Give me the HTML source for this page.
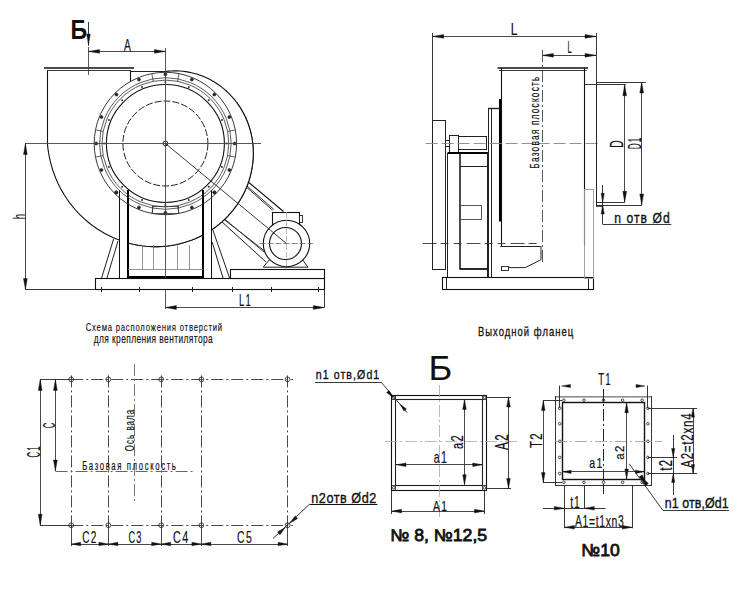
<!DOCTYPE html>
<html><head><meta charset="utf-8"><style>
html,body{margin:0;padding:0;background:#fff;}
svg{display:block;}
</style></head><body>
<svg width="750" height="589" viewBox="0 0 750 589">
<rect x="0" y="0" width="750" height="589" fill="#fff"/>
<path d="M165.40,71.50 L168.24,71.17 L171.11,70.96 L174.00,70.86 L176.90,70.87 L179.82,71.00 L182.74,71.25 L185.67,71.62 L188.60,72.11 L191.51,72.71 L194.42,73.44 L197.31,74.28 L200.18,75.25 L203.02,76.33 L205.82,77.53 L208.60,78.85 L211.33,80.29 L214.01,81.84 L216.64,83.50 L219.22,85.28 L221.73,87.17 L224.18,89.16 L226.56,91.26 L228.87,93.47 L231.09,95.77 L233.23,98.17 L235.29,100.67 L237.25,103.26 L239.12,105.94 L240.88,108.70 L242.54,111.55 L244.10,114.47 L245.54,117.46 L246.87,120.52 L248.08,123.65 L249.18,126.84 L250.14,130.08 L250.99,133.37 L251.70,136.71 L252.28,140.09 L252.73,143.50 L253.05,146.94 L253.23,150.41 L253.27,153.90 L253.17,157.40 L252.94,160.91 L252.56,164.42 L252.04,167.93 L251.38,171.44 L250.57,174.92 L249.63,178.39 L248.54,181.83 L247.31,185.24 L245.95,188.61 L244.44,191.94 L242.80,195.21 L241.02,198.44 L239.10,201.60 L237.06,204.70 L234.88,207.73 L232.58,210.68 L230.15,213.54 L227.60,216.32 L224.93,219.01 L222.14,221.60 L219.24,224.08 L216.24,226.46 L213.13,228.73 L209.92,230.88 L206.62,232.91 L203.22,234.81 L199.74,236.58 L196.18,238.23 L192.54,239.73 L188.83,241.09 L185.06,242.31 L181.22,243.39 L177.33,244.31 L173.39,245.09 L169.42,245.70 L165.40,246.17 L161.35,246.47 L157.28,246.61 L153.20,246.60 L149.10,246.42 L145.00,246.07 L140.90,245.57 L136.80,244.89 L132.73,244.06 L128.67,243.06 L124.64,241.89 L120.65,240.57 L116.70,239.08 L112.80,237.42 L108.95,235.61 L105.17,233.65 L101.45,231.52 L97.81,229.24 L94.24,226.82 L90.77,224.24 L87.38,221.52 L84.10,218.65 L80.92,215.65 L77.85,212.52 L74.90,209.25 L72.07,205.86 L69.36,202.35 L66.79,198.72 L64.36,194.98 L62.07,191.14 L59.92,187.19 L57.93,183.15 L56.09,179.02 L54.41,174.80 L52.90,170.51 L51.55,166.15 L50.37,161.72 L49.36,157.23 L48.53,152.70 L47.87,148.12 L47.40,143.50" stroke="#111" stroke-width="1.1" fill="none" />
<line x1="47.50" y1="70.00" x2="47.50" y2="143.50" stroke="#111" stroke-width="1.1" />
<line x1="130.50" y1="70.00" x2="130.50" y2="81.00" stroke="#111" stroke-width="1.1" />
<line x1="130.60" y1="71.50" x2="166.00" y2="71.50" stroke="#222" stroke-width="1" />
<line x1="44.00" y1="68.00" x2="134.00" y2="68.00" stroke="#111" stroke-width="1.6" />
<line x1="47.00" y1="70.50" x2="131.00" y2="70.50" stroke="#222" stroke-width="0.9" />
<path d="M240.00,175.00 L283.50,211.50" stroke="#111" stroke-width="1.1" fill="none" />
<path d="M240.00,181.50 L272.60,210.20" stroke="#222" stroke-width="0.9" fill="none" />
<path d="M240.00,180.00 L273.80,209.40" stroke="#222" stroke-width="0.9" fill="none" />
<path d="M215.00,211.00 L264.20,252.20" stroke="#222" stroke-width="0.9" fill="none" />
<path d="M215.00,212.50 L265.20,251.40" stroke="#222" stroke-width="0.9" fill="none" />
<path d="M215.00,215.50 L266.00,262.00" stroke="#222" stroke-width="1" fill="none" />
<path d="M236.61,102.39 L238.57,105.14 L240.43,107.98 L242.18,110.91 L243.82,113.92 L245.34,117.01 L246.73,120.18 L248.00,123.42 L249.14,126.72 L250.14,130.08 L251.01,133.49 L251.75,136.96 L252.34,140.46 L252.79,144.01 L253.09,147.58 L253.25,151.19 L253.26,154.81 L253.12,158.44 L252.82,162.08 L252.38,165.73 L251.78,169.36 L251.04,172.99 L250.13,176.59 L249.08,180.18 L247.88,183.73 L246.52,187.24 L245.01,190.71 L243.36,194.13 L241.56,197.49 L239.61,200.79 L237.52,204.02 L235.29,207.17 L232.92,210.24 L230.42,213.23 L227.79,216.12 L225.03,218.91 L222.14,221.60 L219.13,224.17 L216.01,226.63 L212.78,228.97 L209.44,231.19 L206.00,233.27 L202.46,235.22 L198.82,237.02 L195.11,238.69 L191.31,240.20 L187.44,241.56 L183.50,242.77 L179.50,243.82 L175.44,244.70 L171.34,245.43 L167.19,245.98 L163.01,246.37 L158.79,246.58 L154.56,246.62 L150.31,246.49 L146.06,246.18 L141.81,245.69 L137.56,245.03 L133.33,244.19 L129.12,243.18 L165.40,143.50 Z" stroke="none" stroke-width="0" fill="#fff" />
<path d="M236.61,102.39 L238.57,105.14 L240.43,107.98 L242.18,110.91 L243.82,113.92 L245.34,117.01 L246.73,120.18 L248.00,123.42 L249.14,126.72 L250.14,130.08 L251.01,133.49 L251.75,136.96 L252.34,140.46 L252.79,144.01 L253.09,147.58 L253.25,151.19 L253.26,154.81 L253.12,158.44 L252.82,162.08 L252.38,165.73 L251.78,169.36 L251.04,172.99 L250.13,176.59 L249.08,180.18 L247.88,183.73 L246.52,187.24 L245.01,190.71 L243.36,194.13 L241.56,197.49 L239.61,200.79 L237.52,204.02 L235.29,207.17 L232.92,210.24 L230.42,213.23 L227.79,216.12 L225.03,218.91 L222.14,221.60 L219.13,224.17 L216.01,226.63 L212.78,228.97 L209.44,231.19 L206.00,233.27 L202.46,235.22 L198.82,237.02 L195.11,238.69 L191.31,240.20 L187.44,241.56 L183.50,242.77 L179.50,243.82 L175.44,244.70 L171.34,245.43 L167.19,245.98 L163.01,246.37 L158.79,246.58 L154.56,246.62 L150.31,246.49 L146.06,246.18 L141.81,245.69 L137.56,245.03 L133.33,244.19 L129.12,243.18" stroke="#111" stroke-width="1.1" fill="none" />
<line x1="113.60" y1="239.00" x2="101.60" y2="278.00" stroke="#222" stroke-width="1" />
<line x1="118.00" y1="241.00" x2="107.00" y2="278.00" stroke="#222" stroke-width="1" />
<line x1="212.20" y1="242.00" x2="223.00" y2="278.00" stroke="#222" stroke-width="1" />
<line x1="212.80" y1="229.80" x2="229.60" y2="278.00" stroke="#222" stroke-width="1" />
<rect x="119.50" y="190.50" width="9.00" height="88.00" stroke="none" stroke-width="0" fill="#fff" />
<rect x="203.50" y="190.50" width="8.00" height="88.00" stroke="none" stroke-width="0" fill="#fff" />
<line x1="119.50" y1="190.00" x2="119.50" y2="278.00" stroke="#111" stroke-width="1" />
<line x1="211.50" y1="190.00" x2="211.50" y2="278.00" stroke="#111" stroke-width="1" />
<line x1="128.00" y1="190.00" x2="128.00" y2="278.00" stroke="#000" stroke-width="2" />
<line x1="203.00" y1="190.00" x2="203.00" y2="278.00" stroke="#000" stroke-width="2" />
<line x1="142.50" y1="245.00" x2="142.50" y2="269.60" stroke="#777" stroke-width="0.8" />
<line x1="153.50" y1="245.00" x2="153.50" y2="269.60" stroke="#777" stroke-width="0.8" />
<line x1="177.50" y1="245.00" x2="177.50" y2="269.60" stroke="#777" stroke-width="0.8" />
<line x1="189.50" y1="245.00" x2="189.50" y2="269.60" stroke="#777" stroke-width="0.8" />
<line x1="128.00" y1="269.50" x2="203.00" y2="269.50" stroke="#777" stroke-width="0.8" />
<line x1="128.00" y1="277.00" x2="203.00" y2="277.00" stroke="#000" stroke-width="2" />
<circle cx="165.40" cy="143.50" r="71.20" stroke="#222" stroke-width="0.9" fill="none" />
<circle cx="165.40" cy="143.50" r="65.80" stroke="#333" stroke-width="0.8" fill="none" />
<circle cx="165.40" cy="143.50" r="63.40" stroke="#333" stroke-width="0.8" fill="none" />
<circle cx="165.40" cy="143.50" r="59.00" stroke="#111" stroke-width="1.1" fill="none" />
<circle cx="234.60" cy="143.50" r="1.50" stroke="#222" stroke-width="0.6" fill="#222" />
<circle cx="226.60" cy="143.50" r="1.00" stroke="#222" stroke-width="0" fill="#333" />
<circle cx="229.33" cy="169.98" r="1.50" stroke="#222" stroke-width="0.6" fill="#222" />
<circle cx="221.94" cy="166.92" r="1.00" stroke="#222" stroke-width="0" fill="#333" />
<circle cx="214.33" cy="192.43" r="1.50" stroke="#222" stroke-width="0.6" fill="#222" />
<circle cx="208.67" cy="186.77" r="1.00" stroke="#222" stroke-width="0" fill="#333" />
<circle cx="191.88" cy="207.43" r="1.50" stroke="#222" stroke-width="0.6" fill="#222" />
<circle cx="188.82" cy="200.04" r="1.00" stroke="#222" stroke-width="0" fill="#333" />
<circle cx="165.40" cy="212.70" r="1.50" stroke="#222" stroke-width="0.6" fill="#222" />
<circle cx="165.40" cy="204.70" r="1.00" stroke="#222" stroke-width="0" fill="#333" />
<circle cx="138.92" cy="207.43" r="1.50" stroke="#222" stroke-width="0.6" fill="#222" />
<circle cx="141.98" cy="200.04" r="1.00" stroke="#222" stroke-width="0" fill="#333" />
<circle cx="116.47" cy="192.43" r="1.50" stroke="#222" stroke-width="0.6" fill="#222" />
<circle cx="122.13" cy="186.77" r="1.00" stroke="#222" stroke-width="0" fill="#333" />
<circle cx="101.47" cy="169.98" r="1.50" stroke="#222" stroke-width="0.6" fill="#222" />
<circle cx="108.86" cy="166.92" r="1.00" stroke="#222" stroke-width="0" fill="#333" />
<circle cx="96.20" cy="143.50" r="1.50" stroke="#222" stroke-width="0.6" fill="#222" />
<circle cx="104.20" cy="143.50" r="1.00" stroke="#222" stroke-width="0" fill="#333" />
<circle cx="101.47" cy="117.02" r="1.50" stroke="#222" stroke-width="0.6" fill="#222" />
<circle cx="108.86" cy="120.08" r="1.00" stroke="#222" stroke-width="0" fill="#333" />
<circle cx="116.47" cy="94.57" r="1.50" stroke="#222" stroke-width="0.6" fill="#222" />
<circle cx="122.13" cy="100.23" r="1.00" stroke="#222" stroke-width="0" fill="#333" />
<circle cx="138.92" cy="79.57" r="1.50" stroke="#222" stroke-width="0.6" fill="#222" />
<circle cx="141.98" cy="86.96" r="1.00" stroke="#222" stroke-width="0" fill="#333" />
<circle cx="165.40" cy="74.30" r="1.50" stroke="#222" stroke-width="0.6" fill="#222" />
<circle cx="165.40" cy="82.30" r="1.00" stroke="#222" stroke-width="0" fill="#333" />
<circle cx="191.88" cy="79.57" r="1.50" stroke="#222" stroke-width="0.6" fill="#222" />
<circle cx="188.82" cy="86.96" r="1.00" stroke="#222" stroke-width="0" fill="#333" />
<circle cx="214.33" cy="94.57" r="1.50" stroke="#222" stroke-width="0.6" fill="#222" />
<circle cx="208.67" cy="100.23" r="1.00" stroke="#222" stroke-width="0" fill="#333" />
<circle cx="229.33" cy="117.02" r="1.50" stroke="#222" stroke-width="0.6" fill="#222" />
<circle cx="221.94" cy="120.08" r="1.00" stroke="#222" stroke-width="0" fill="#333" />
<line x1="227.64" y1="131.40" x2="235.29" y2="129.91" stroke="#333" stroke-width="0.8" />
<line x1="227.64" y1="155.60" x2="235.29" y2="157.09" stroke="#333" stroke-width="0.8" />
<line x1="177.50" y1="205.74" x2="178.99" y2="213.39" stroke="#333" stroke-width="0.8" />
<line x1="153.30" y1="205.74" x2="151.81" y2="213.39" stroke="#333" stroke-width="0.8" />
<line x1="103.16" y1="155.60" x2="95.51" y2="157.09" stroke="#333" stroke-width="0.8" />
<line x1="103.16" y1="131.40" x2="95.51" y2="129.91" stroke="#333" stroke-width="0.8" />
<line x1="153.30" y1="81.26" x2="151.81" y2="73.61" stroke="#333" stroke-width="0.8" />
<line x1="177.50" y1="81.26" x2="178.99" y2="73.61" stroke="#333" stroke-width="0.8" />
<rect x="152.50" y="206.50" width="26.00" height="7.00" stroke="#333" stroke-width="0.8" fill="none" />
<circle cx="116.00" cy="192.40" r="1.50" stroke="#222" stroke-width="0.8" fill="none" />
<circle cx="214.40" cy="192.40" r="1.50" stroke="#222" stroke-width="0.8" fill="none" />
<circle cx="165.40" cy="143.50" r="42.50" stroke="#222" stroke-width="1" fill="none" stroke-dasharray="7 2"/>
<circle cx="165.40" cy="143.50" r="2.40" stroke="#222" stroke-width="1" fill="none" />
<line x1="25.00" y1="143.50" x2="261.00" y2="143.50" stroke="#444" stroke-width="0.9" />
<line x1="165.50" y1="48.00" x2="165.50" y2="309.00" stroke="#444" stroke-width="0.9" />
<rect x="95.50" y="278.50" width="229.00" height="11.00" stroke="#111" stroke-width="1.1" fill="#fff" />
<line x1="101.50" y1="287.00" x2="101.50" y2="292.00" stroke="#222" stroke-width="1" />
<line x1="139.50" y1="287.00" x2="139.50" y2="292.00" stroke="#222" stroke-width="1" />
<line x1="192.50" y1="287.00" x2="192.50" y2="292.00" stroke="#222" stroke-width="1" />
<line x1="232.50" y1="287.00" x2="232.50" y2="292.00" stroke="#222" stroke-width="1" />
<line x1="271.50" y1="287.00" x2="271.50" y2="292.00" stroke="#222" stroke-width="1" />
<line x1="318.50" y1="287.00" x2="318.50" y2="292.00" stroke="#222" stroke-width="1" />
<line x1="25.00" y1="289.50" x2="95.60" y2="289.50" stroke="#222" stroke-width="0.9" />
<rect x="230.50" y="269.50" width="94.00" height="9.00" stroke="#111" stroke-width="1.1" fill="#fff" />
<path d="M270.00,259.00 L263.20,267.20 L308.00,267.20 L302.00,259.00" stroke="#222" stroke-width="1" fill="#fff" />
<rect x="272.50" y="212.50" width="27.00" height="12.00" stroke="#111" stroke-width="1.1" fill="#fff" />
<rect x="299.50" y="215.50" width="3.00" height="7.00" stroke="#222" stroke-width="0.9" fill="none" />
<circle cx="286.50" cy="243.50" r="23.20" stroke="#111" stroke-width="1.1" fill="#fff" />
<circle cx="285.50" cy="243.50" r="16.00" stroke="#111" stroke-width="1.1" fill="none" />
<line x1="259.50" y1="243.50" x2="312.90" y2="243.50" stroke="#666" stroke-width="0.8" stroke-dasharray="6 2"/>
<line x1="286.50" y1="212.00" x2="286.50" y2="269.20" stroke="#aaa" stroke-width="0.8" stroke-dasharray="6 2"/>
<line x1="165.40" y1="143.50" x2="286.50" y2="243.50" stroke="#222" stroke-width="0.9" />
<line x1="25.50" y1="143.50" x2="25.50" y2="289.50" stroke="#333" stroke-width="0.9" />
<path d="M25.40,289.50 L23.50,278.50 L27.30,278.50 Z" stroke="#111" stroke-width="0.4" fill="#111" />
<path d="M25.40,143.50 L27.30,154.50 L23.50,154.50 Z" stroke="#111" stroke-width="0.4" fill="#111" />
<text transform="translate(24.90 218.60) rotate(-90) scale(0.5679136798088404 1)" x="-1.19" y="0" font-family="&quot;Liberation Sans&quot;, sans-serif" font-size="17.11" fill="#111" stroke="#111" stroke-width="0.2" letter-spacing="0.000">h</text>
<line x1="88.50" y1="22.00" x2="88.50" y2="45.80" stroke="#222" stroke-width="0.9" />
<path d="M88.50,45.00 L86.70,34.00 L90.30,34.00 Z" stroke="#111" stroke-width="0.4" fill="#111" />
<line x1="88.50" y1="47.00" x2="88.50" y2="75.00" stroke="#444" stroke-width="0.9" />
<line x1="88.50" y1="51.50" x2="165.40" y2="51.50" stroke="#333" stroke-width="0.9" />
<path d="M165.40,51.40 L154.40,53.30 L154.40,49.50 Z" stroke="#111" stroke-width="0.4" fill="#111" />
<path d="M88.50,51.40 L99.50,49.50 L99.50,53.30 Z" stroke="#111" stroke-width="0.4" fill="#111" />
<text transform="scale(0.613510917589807 1)" x="202.08" y="51.00" font-family="&quot;Liberation Sans&quot;, sans-serif" font-size="16.72" fill="#111" stroke="#111" stroke-width="0.2" letter-spacing="0.000">A</text>
<text x="70.45" y="38.80" font-family="&quot;Liberation Sans&quot;, sans-serif" font-size="26.74" font-weight="bold" fill="#111"  textLength="16.68" lengthAdjust="spacingAndGlyphs">Б</text>
<line x1="324.50" y1="289.50" x2="324.50" y2="307.50" stroke="#222" stroke-width="0.9" />
<line x1="165.40" y1="307.50" x2="324.30" y2="307.50" stroke="#333" stroke-width="0.9" />
<path d="M324.30,307.50 L313.30,309.40 L313.30,305.60 Z" stroke="#111" stroke-width="0.4" fill="#111" />
<path d="M165.40,307.50 L176.40,305.60 L176.40,309.40 Z" stroke="#111" stroke-width="0.4" fill="#111" />
<text transform="scale(0.5560435112572727 1)" x="430.03" y="305.80" font-family="&quot;Liberation Sans&quot;, sans-serif" font-size="17.15" fill="#111" stroke="#111" stroke-width="0.2" letter-spacing="1.870">L1</text>
<line x1="432.70" y1="36.50" x2="596.00" y2="36.50" stroke="#333" stroke-width="0.9" />
<path d="M596.00,36.40 L585.00,38.30 L585.00,34.50 Z" stroke="#111" stroke-width="0.4" fill="#111" />
<path d="M432.70,36.40 L443.70,34.50 L443.70,38.30 Z" stroke="#111" stroke-width="0.4" fill="#111" />
<text transform="scale(0.7254279108624287 1)" x="704.02" y="34.70" font-family="&quot;Liberation Sans&quot;, sans-serif" font-size="16.57" fill="#111" stroke="#111" stroke-width="0.2" letter-spacing="0.000">L</text>
<line x1="432.50" y1="33.00" x2="432.50" y2="120.70" stroke="#222" stroke-width="0.9" />
<line x1="596.50" y1="33.00" x2="596.50" y2="82.00" stroke="#222" stroke-width="0.9" />
<line x1="542.40" y1="55.50" x2="596.00" y2="55.50" stroke="#333" stroke-width="0.9" />
<path d="M596.00,55.30 L585.00,57.20 L585.00,53.40 Z" stroke="#111" stroke-width="0.4" fill="#111" />
<path d="M542.40,55.30 L553.40,53.40 L553.40,57.20 Z" stroke="#111" stroke-width="0.4" fill="#111" />
<text transform="scale(0.455678711081051 1)" x="1245.14" y="53.30" font-family="&quot;Liberation Sans&quot;, sans-serif" font-size="16.42" fill="#111" stroke="#111" stroke-width="0.2" letter-spacing="0.000">L</text>
<line x1="542.50" y1="50.00" x2="542.50" y2="262.00" stroke="#444" stroke-width="0.9" stroke-dasharray="12 3 2 3"/>
<line x1="497.50" y1="68.00" x2="588.00" y2="68.00" stroke="#111" stroke-width="1.6" />
<line x1="499.00" y1="70.50" x2="586.50" y2="70.50" stroke="#222" stroke-width="0.9" />
<line x1="501.50" y1="68.00" x2="501.50" y2="246.60" stroke="#111" stroke-width="1.1" />
<line x1="584.50" y1="68.00" x2="584.50" y2="245.50" stroke="#111" stroke-width="1.1" />
<line x1="500.00" y1="99.00" x2="500.00" y2="221.60" stroke="#000" stroke-width="2" />
<line x1="488.50" y1="108.20" x2="488.50" y2="277.00" stroke="#222" stroke-width="1" />
<line x1="491.50" y1="108.20" x2="491.50" y2="277.00" stroke="#222" stroke-width="1" />
<line x1="488.10" y1="108.50" x2="500.00" y2="108.50" stroke="#222" stroke-width="1.4" />
<rect x="432.50" y="120.50" width="13.00" height="149.00" stroke="#222" stroke-width="1" fill="none" />
<rect x="445.50" y="140.50" width="4.00" height="6.00" stroke="#222" stroke-width="1" fill="none" />
<rect x="449.50" y="135.50" width="9.00" height="17.00" stroke="#222" stroke-width="1" fill="none" />
<rect x="458.50" y="136.50" width="28.00" height="13.00" stroke="#222" stroke-width="1" fill="none" />
<line x1="447.60" y1="153.00" x2="487.90" y2="153.00" stroke="#000" stroke-width="2" />
<line x1="447.50" y1="153.00" x2="447.50" y2="277.00" stroke="#222" stroke-width="1" />
<line x1="460.00" y1="153.00" x2="460.00" y2="269.00" stroke="#111" stroke-width="1.5" />
<line x1="487.50" y1="153.00" x2="487.50" y2="277.00" stroke="#222" stroke-width="1" />
<line x1="459.50" y1="166.50" x2="487.90" y2="166.50" stroke="#222" stroke-width="1" />
<rect x="459.50" y="205.50" width="22.00" height="14.00" stroke="#444" stroke-width="0.9" fill="none" />
<line x1="459.50" y1="269.00" x2="487.90" y2="269.00" stroke="#111" stroke-width="1.8" />
<rect x="442.50" y="277.50" width="151.00" height="12.00" stroke="#111" stroke-width="1.1" fill="none" />
<line x1="446.50" y1="277.40" x2="446.50" y2="289.50" stroke="#222" stroke-width="1" />
<line x1="588.50" y1="277.40" x2="588.50" y2="289.50" stroke="#222" stroke-width="1" />
<path d="M500.30,246.50 L541.00,246.50 L541.00,259.70 L525.30,267.60 L508.20,267.60" stroke="#222" stroke-width="1" fill="none" />
<rect x="501.50" y="266.50" width="7.00" height="4.00" stroke="#222" stroke-width="0.9" fill="none" />
<line x1="422.60" y1="243.50" x2="538.40" y2="243.50" stroke="#333" stroke-width="0.9" stroke-dasharray="14 4 8 5 8 5"/>
<line x1="425.60" y1="143.50" x2="600.00" y2="143.50" stroke="#888" stroke-width="0.9" stroke-dasharray="12 4"/>
<line x1="596.50" y1="82.00" x2="596.50" y2="206.00" stroke="#222" stroke-width="1" />
<line x1="596.00" y1="82.50" x2="645.70" y2="82.50" stroke="#222" stroke-width="0.9" />
<line x1="584.70" y1="84.50" x2="625.80" y2="84.50" stroke="#222" stroke-width="0.9" />
<rect x="584.50" y="189.50" width="9.00" height="89.00" stroke="#999" stroke-width="0.9" fill="none" />
<line x1="596.00" y1="202.50" x2="624.70" y2="202.50" stroke="#222" stroke-width="0.9" />
<line x1="596.00" y1="205.50" x2="641.70" y2="205.50" stroke="#222" stroke-width="0.9" />
<line x1="596.00" y1="206.00" x2="602.70" y2="206.00" stroke="#222" stroke-width="1.5" />
<line x1="624.50" y1="84.70" x2="624.50" y2="202.30" stroke="#333" stroke-width="0.9" />
<path d="M624.70,202.30 L622.80,191.30 L626.60,191.30 Z" stroke="#111" stroke-width="0.4" fill="#111" />
<path d="M624.70,84.70 L626.60,95.70 L622.80,95.70 Z" stroke="#111" stroke-width="0.4" fill="#111" />
<line x1="641.50" y1="82.00" x2="641.50" y2="205.00" stroke="#333" stroke-width="0.9" />
<path d="M641.70,205.00 L639.80,194.00 L643.60,194.00 Z" stroke="#111" stroke-width="0.4" fill="#111" />
<path d="M641.70,82.00 L643.60,93.00 L639.80,93.00 Z" stroke="#111" stroke-width="0.4" fill="#111" />
<text transform="translate(623.30 146.90) rotate(-90) scale(0.5760695447020439 1)" x="-1.47" y="0" font-family="&quot;Liberation Sans&quot;, sans-serif" font-size="17.88" fill="#111" stroke="#111" stroke-width="0.2" letter-spacing="0.000">D</text>
<text transform="translate(641.00 148.60) rotate(-90) scale(0.46503580695381574 1)" x="-1.47" y="0" font-family="&quot;Liberation Sans&quot;, sans-serif" font-size="17.88" fill="#111" stroke="#111" stroke-width="0.2" letter-spacing="2.279">D1</text>
<line x1="602.50" y1="185.00" x2="602.50" y2="224.30" stroke="#222" stroke-width="0.9" />
<path d="M602.70,202.30 L601.10,193.30 L604.30,193.30 Z" stroke="#111" stroke-width="0.4" fill="#111" />
<path d="M602.70,205.00 L604.30,214.00 L601.10,214.00 Z" stroke="#111" stroke-width="0.4" fill="#111" />
<line x1="602.70" y1="224.50" x2="671.30" y2="224.50" stroke="#222" stroke-width="0.9" />
<text transform="scale(0.8 1)" x="767.74" y="223.30" font-family="&quot;Liberation Sans&quot;, sans-serif" font-size="15.18" fill="#111" stroke="#111" stroke-width="0.35" letter-spacing="1.325">n отв Ød</text>
<text transform="translate(539.10 168.00) rotate(-90) scale(0.62 1)" x="-1.11" y="0" font-family="&quot;Liberation Sans&quot;, sans-serif" font-size="13.52" fill="#111" stroke="#111" stroke-width="0.2" letter-spacing="1.873">Базовая плоскость</text>
<text transform="scale(0.68 1)" x="126.04" y="330.60" font-family="&quot;Liberation Sans&quot;, sans-serif" font-size="11.32" fill="#111" stroke="#111" stroke-width="0.15" letter-spacing="1.171">Схема расположения отверстий</text>
<text transform="scale(0.68 1)" x="137.82" y="343.20" font-family="&quot;Liberation Sans&quot;, sans-serif" font-size="12.31" fill="#111" stroke="#111" stroke-width="0.15" letter-spacing="0.612">для крепления вентилятора</text>
<text transform="scale(0.74 1)" x="645.84" y="335.80" font-family="&quot;Liberation Sans&quot;, sans-serif" font-size="12.80" fill="#111" stroke="#111" stroke-width="0.3" letter-spacing="1.381">Выходной фланец</text>
<line x1="40.00" y1="379.50" x2="71.20" y2="379.50" stroke="#222" stroke-width="0.9" />
<line x1="71.20" y1="379.50" x2="293.00" y2="379.50" stroke="#333" stroke-width="0.9" stroke-dasharray="12 3 2 3"/>
<line x1="40.00" y1="525.50" x2="71.20" y2="525.50" stroke="#222" stroke-width="0.9" />
<line x1="71.20" y1="525.50" x2="293.00" y2="525.50" stroke="#333" stroke-width="0.9" stroke-dasharray="12 3 2 3"/>
<line x1="71.50" y1="375.40" x2="71.50" y2="527.30" stroke="#333" stroke-width="0.9" stroke-dasharray="12 3 2 3"/>
<line x1="71.50" y1="525.30" x2="71.50" y2="546.00" stroke="#333" stroke-width="0.9" />
<circle cx="71.20" cy="379.40" r="2.40" stroke="#222" stroke-width="0.8" fill="none" />
<circle cx="71.20" cy="525.30" r="2.40" stroke="#222" stroke-width="0.8" fill="none" />
<line x1="108.50" y1="375.40" x2="108.50" y2="527.30" stroke="#333" stroke-width="0.9" stroke-dasharray="12 3 2 3"/>
<line x1="108.50" y1="525.30" x2="108.50" y2="546.00" stroke="#333" stroke-width="0.9" />
<circle cx="108.40" cy="379.40" r="2.40" stroke="#222" stroke-width="0.8" fill="none" />
<circle cx="108.40" cy="525.30" r="2.40" stroke="#222" stroke-width="0.8" fill="none" />
<line x1="161.50" y1="375.40" x2="161.50" y2="527.30" stroke="#333" stroke-width="0.9" stroke-dasharray="12 3 2 3"/>
<line x1="161.50" y1="525.30" x2="161.50" y2="546.00" stroke="#333" stroke-width="0.9" />
<circle cx="161.20" cy="379.40" r="2.40" stroke="#222" stroke-width="0.8" fill="none" />
<circle cx="161.20" cy="525.30" r="2.40" stroke="#222" stroke-width="0.8" fill="none" />
<line x1="201.50" y1="375.40" x2="201.50" y2="527.30" stroke="#333" stroke-width="0.9" stroke-dasharray="12 3 2 3"/>
<line x1="201.50" y1="525.30" x2="201.50" y2="546.00" stroke="#333" stroke-width="0.9" />
<circle cx="201.40" cy="379.40" r="2.40" stroke="#222" stroke-width="0.8" fill="none" />
<circle cx="201.40" cy="525.30" r="2.40" stroke="#222" stroke-width="0.8" fill="none" />
<line x1="287.50" y1="375.40" x2="287.50" y2="527.30" stroke="#333" stroke-width="0.9" stroke-dasharray="12 3 2 3"/>
<line x1="287.50" y1="525.30" x2="287.50" y2="546.00" stroke="#333" stroke-width="0.9" />
<circle cx="287.60" cy="379.40" r="2.40" stroke="#222" stroke-width="0.8" fill="none" />
<circle cx="287.60" cy="525.30" r="2.40" stroke="#222" stroke-width="0.8" fill="none" />
<line x1="40.50" y1="379.40" x2="40.50" y2="525.30" stroke="#333" stroke-width="0.9" />
<path d="M40.20,525.30 L38.30,514.30 L42.10,514.30 Z" stroke="#111" stroke-width="0.4" fill="#111" />
<path d="M40.20,379.40 L42.10,390.40 L38.30,390.40 Z" stroke="#111" stroke-width="0.4" fill="#111" />
<line x1="55.50" y1="379.40" x2="55.50" y2="471.00" stroke="#333" stroke-width="0.9" />
<path d="M55.40,471.00 L53.50,460.00 L57.30,460.00 Z" stroke="#111" stroke-width="0.4" fill="#111" />
<path d="M55.40,379.40 L57.30,390.40 L53.50,390.40 Z" stroke="#111" stroke-width="0.4" fill="#111" />
<line x1="55.60" y1="471.50" x2="194.00" y2="471.50" stroke="#555" stroke-width="0.9" stroke-dasharray="12 3 2 3"/>
<line x1="134.50" y1="364.00" x2="134.50" y2="503.00" stroke="#666" stroke-width="0.9" stroke-dasharray="12 3 2 3"/>
<text transform="scale(0.62 1)" x="132.52" y="470.20" font-family="&quot;Liberation Sans&quot;, sans-serif" font-size="12.50" fill="#111" stroke="#111" stroke-width="0.2" letter-spacing="2.606">Базовая плоскость</text>
<text transform="translate(133.70 451.00) rotate(-90) scale(0.62 1)" x="-0.61" y="0" font-family="&quot;Liberation Sans&quot;, sans-serif" font-size="12.89" fill="#111" stroke="#111" stroke-width="0.2" letter-spacing="1.679">Ось вала</text>
<text transform="translate(39.80 457.00) rotate(-90) scale(0.43425114252879815 1)" x="-0.90" y="0" font-family="&quot;Liberation Sans&quot;, sans-serif" font-size="17.76" fill="#111" stroke="#111" stroke-width="0.2" letter-spacing="2.326">C1</text>
<text transform="translate(54.70 427.90) rotate(-90) scale(0.45232588023643866 1)" x="-0.85" y="0" font-family="&quot;Liberation Sans&quot;, sans-serif" font-size="16.76" fill="#111" stroke="#111" stroke-width="0.2" letter-spacing="0.000">C</text>
<line x1="71.20" y1="544.50" x2="108.40" y2="544.50" stroke="#333" stroke-width="0.9" />
<path d="M108.40,544.00 L98.90,545.80 L98.90,542.20 Z" stroke="#111" stroke-width="0.4" fill="#111" />
<path d="M71.20,544.00 L80.70,542.20 L80.70,545.80 Z" stroke="#111" stroke-width="0.4" fill="#111" />
<text transform="scale(0.6291254369852438 1)" x="130.64" y="542.60" font-family="&quot;Liberation Sans&quot;, sans-serif" font-size="16.04" fill="#111" stroke="#111" stroke-width="0.2" letter-spacing="2.098">C2</text>
<line x1="108.40" y1="544.50" x2="161.20" y2="544.50" stroke="#333" stroke-width="0.9" />
<path d="M161.20,544.00 L151.70,545.80 L151.70,542.20 Z" stroke="#111" stroke-width="0.4" fill="#111" />
<path d="M108.40,544.00 L117.90,542.20 L117.90,545.80 Z" stroke="#111" stroke-width="0.4" fill="#111" />
<text transform="scale(0.5736054632248914 1)" x="223.90" y="542.60" font-family="&quot;Liberation Sans&quot;, sans-serif" font-size="16.04" fill="#111" stroke="#111" stroke-width="0.2" letter-spacing="2.109">C3</text>
<line x1="161.20" y1="544.50" x2="201.40" y2="544.50" stroke="#333" stroke-width="0.9" />
<path d="M201.40,544.00 L191.90,545.80 L191.90,542.20 Z" stroke="#111" stroke-width="0.4" fill="#111" />
<path d="M161.20,544.00 L170.70,542.20 L170.70,545.80 Z" stroke="#111" stroke-width="0.4" fill="#111" />
<text transform="scale(0.6742926999650692 1)" x="256.64" y="542.60" font-family="&quot;Liberation Sans&quot;, sans-serif" font-size="16.04" fill="#111" stroke="#111" stroke-width="0.2" letter-spacing="2.136">C4</text>
<line x1="201.40" y1="544.50" x2="287.60" y2="544.50" stroke="#333" stroke-width="0.9" />
<path d="M287.60,544.00 L278.10,545.80 L278.10,542.20 Z" stroke="#111" stroke-width="0.4" fill="#111" />
<path d="M201.40,544.00 L210.90,542.20 L210.90,545.80 Z" stroke="#111" stroke-width="0.4" fill="#111" />
<text transform="scale(0.6531169098611418 1)" x="362.98" y="542.60" font-family="&quot;Liberation Sans&quot;, sans-serif" font-size="16.04" fill="#111" stroke="#111" stroke-width="0.2" letter-spacing="2.113">C5</text>
<path d="M289.80,523.30 L295.20,515.88 L297.64,518.53 Z" stroke="#111" stroke-width="0.4" fill="#111" />
<path d="M285.40,527.30 L280.00,534.72 L277.56,532.07 Z" stroke="#111" stroke-width="0.4" fill="#111" />
<text x="428.53" y="380.20" font-family="&quot;Liberation Sans&quot;, sans-serif" font-size="34.88" font-weight="normal" fill="#111"  textLength="23.74" lengthAdjust="spacingAndGlyphs">Б</text>
<text transform="scale(0.85 1)" x="371.41" y="379.00" font-family="&quot;Liberation Sans&quot;, sans-serif" font-size="12.42" fill="#111" stroke="#111" stroke-width="0.35" letter-spacing="1.299">n1 отв,Ød1</text>
<line x1="315.00" y1="382.50" x2="381.00" y2="382.50" stroke="#222" stroke-width="0.9" />
<line x1="381.00" y1="382.00" x2="407.00" y2="412.50" stroke="#222" stroke-width="0.9" />
<path d="M393.00,397.50 L386.58,392.47 L389.01,390.38 Z" stroke="#111" stroke-width="0.4" fill="#111" />
<path d="M400.00,404.00 L406.42,409.03 L403.99,411.12 Z" stroke="#111" stroke-width="0.4" fill="#111" />
<rect x="391.50" y="395.50" width="95.00" height="95.00" stroke="#111" stroke-width="1.1" fill="none" />
<rect x="395.50" y="399.50" width="87.00" height="86.00" stroke="#222" stroke-width="1.1" fill="none" />
<line x1="395.50" y1="399.30" x2="395.50" y2="395.70" stroke="#333" stroke-width="0.9" />
<line x1="395.90" y1="399.50" x2="391.50" y2="399.50" stroke="#333" stroke-width="0.9" />
<line x1="395.50" y1="485.40" x2="395.50" y2="490.30" stroke="#333" stroke-width="0.9" />
<line x1="395.90" y1="485.50" x2="391.50" y2="485.50" stroke="#333" stroke-width="0.9" />
<line x1="482.50" y1="399.30" x2="482.50" y2="395.70" stroke="#333" stroke-width="0.9" />
<line x1="482.40" y1="399.50" x2="486.70" y2="399.50" stroke="#333" stroke-width="0.9" />
<line x1="482.50" y1="485.40" x2="482.50" y2="490.30" stroke="#333" stroke-width="0.9" />
<line x1="482.40" y1="485.50" x2="486.70" y2="485.50" stroke="#333" stroke-width="0.9" />
<circle cx="393.70" cy="397.50" r="1.30" stroke="#222" stroke-width="0.8" fill="none" />
<circle cx="484.50" cy="397.50" r="1.30" stroke="#222" stroke-width="0.8" fill="none" />
<circle cx="393.70" cy="487.80" r="1.30" stroke="#222" stroke-width="0.8" fill="none" />
<circle cx="484.50" cy="487.80" r="1.30" stroke="#222" stroke-width="0.8" fill="none" />
<line x1="439.50" y1="385.00" x2="439.50" y2="520.00" stroke="#aaa" stroke-width="0.8" stroke-dasharray="12 3 2 3"/>
<line x1="385.00" y1="441.50" x2="520.00" y2="441.50" stroke="#aaa" stroke-width="0.8" stroke-dasharray="12 3 2 3"/>
<line x1="396.00" y1="464.50" x2="482.70" y2="464.50" stroke="#333" stroke-width="0.9" />
<path d="M482.70,464.80 L472.70,466.60 L472.70,463.00 Z" stroke="#111" stroke-width="0.4" fill="#111" />
<path d="M396.00,464.80 L406.00,463.00 L406.00,466.60 Z" stroke="#111" stroke-width="0.4" fill="#111" />
<text transform="scale(0.6436947821490593 1)" x="673.99" y="462.90" font-family="&quot;Liberation Sans&quot;, sans-serif" font-size="16.57" fill="#111" stroke="#111" stroke-width="0.2" letter-spacing="1.880">a1</text>
<line x1="464.50" y1="399.40" x2="464.50" y2="484.70" stroke="#333" stroke-width="0.9" />
<path d="M464.50,484.70 L462.70,474.70 L466.30,474.70 Z" stroke="#111" stroke-width="0.4" fill="#111" />
<path d="M464.50,399.40 L466.30,409.40 L462.70,409.40 Z" stroke="#111" stroke-width="0.4" fill="#111" />
<text transform="translate(463.20 448.50) rotate(-90) scale(0.6418495297805673 1)" x="-0.74" y="0" font-family="&quot;Liberation Sans&quot;, sans-serif" font-size="17.33" fill="#111" stroke="#111" stroke-width="0.2" letter-spacing="1.963">a2</text>
<line x1="486.40" y1="397.50" x2="511.00" y2="397.50" stroke="#222" stroke-width="0.9" />
<line x1="486.40" y1="488.50" x2="511.00" y2="488.50" stroke="#222" stroke-width="0.9" />
<line x1="508.50" y1="397.00" x2="508.50" y2="488.40" stroke="#333" stroke-width="0.9" />
<path d="M508.50,488.40 L506.70,478.40 L510.30,478.40 Z" stroke="#111" stroke-width="0.4" fill="#111" />
<path d="M508.50,397.00 L510.30,407.00 L506.70,407.00 Z" stroke="#111" stroke-width="0.4" fill="#111" />
<text transform="translate(508.30 449.90) rotate(-90) scale(0.6492305415803474 1)" x="-0.03" y="0" font-family="&quot;Liberation Sans&quot;, sans-serif" font-size="17.76" fill="#111" stroke="#111" stroke-width="0.2" letter-spacing="2.310">A2</text>
<line x1="391.50" y1="490.30" x2="391.50" y2="514.00" stroke="#222" stroke-width="0.9" />
<line x1="484.50" y1="490.30" x2="484.50" y2="514.00" stroke="#222" stroke-width="0.9" />
<line x1="391.50" y1="511.50" x2="484.50" y2="511.50" stroke="#333" stroke-width="0.9" />
<path d="M484.50,511.10 L474.50,512.90 L474.50,509.30 Z" stroke="#111" stroke-width="0.4" fill="#111" />
<path d="M391.50,511.10 L401.50,509.30 L401.50,512.90 Z" stroke="#111" stroke-width="0.4" fill="#111" />
<text transform="scale(0.7095414789292293 1)" x="610.37" y="510.60" font-family="&quot;Liberation Sans&quot;, sans-serif" font-size="14.39" fill="#111" stroke="#111" stroke-width="0.2" letter-spacing="1.874">A1</text>
<text x="390.38" y="540.90" font-family="&quot;Liberation Sans&quot;, sans-serif" font-size="16.90" font-weight="normal" fill="#111" stroke="#111" stroke-width="0.8" textLength="96.76" lengthAdjust="spacingAndGlyphs">№ 8, №12,5</text>
<text transform="scale(0.85 1)" x="366.19" y="502.80" font-family="&quot;Liberation Sans&quot;, sans-serif" font-size="14.90" fill="#111" stroke="#111" stroke-width="0.35" letter-spacing="0.639">n2отв Ød2</text>
<line x1="309.60" y1="504.50" x2="377.40" y2="504.50" stroke="#111" stroke-width="1.2" />
<line x1="309.60" y1="504.10" x2="273.00" y2="538.50" stroke="#222" stroke-width="0.9" />
<rect x="555.50" y="396.50" width="96.00" height="89.00" stroke="#333" stroke-width="1" fill="none" />
<line x1="556.00" y1="397.00" x2="651.00" y2="397.00" stroke="#aaa" stroke-width="1.5" />
<rect x="562.50" y="402.50" width="82.00" height="77.00" stroke="#111" stroke-width="1.4" fill="none" />
<circle cx="563.90" cy="400.20" r="1.30" stroke="#222" stroke-width="0.8" fill="none" />
<circle cx="563.90" cy="482.30" r="1.30" stroke="#222" stroke-width="0.8" fill="none" />
<circle cx="584.00" cy="400.20" r="1.30" stroke="#222" stroke-width="0.8" fill="none" />
<circle cx="584.00" cy="482.30" r="1.30" stroke="#222" stroke-width="0.8" fill="none" />
<circle cx="603.50" cy="400.20" r="1.30" stroke="#222" stroke-width="0.8" fill="none" />
<circle cx="603.50" cy="482.30" r="1.30" stroke="#222" stroke-width="0.8" fill="none" />
<circle cx="622.60" cy="400.20" r="1.30" stroke="#222" stroke-width="0.8" fill="none" />
<circle cx="622.60" cy="482.30" r="1.30" stroke="#222" stroke-width="0.8" fill="none" />
<circle cx="642.10" cy="400.20" r="1.30" stroke="#222" stroke-width="0.8" fill="none" />
<circle cx="642.10" cy="482.30" r="1.30" stroke="#222" stroke-width="0.8" fill="none" />
<circle cx="559.80" cy="408.20" r="1.30" stroke="#222" stroke-width="0.8" fill="none" />
<circle cx="647.90" cy="408.20" r="1.30" stroke="#222" stroke-width="0.8" fill="none" />
<circle cx="559.80" cy="423.80" r="1.30" stroke="#222" stroke-width="0.8" fill="none" />
<circle cx="647.90" cy="423.80" r="1.30" stroke="#222" stroke-width="0.8" fill="none" />
<circle cx="559.80" cy="441.30" r="1.30" stroke="#222" stroke-width="0.8" fill="none" />
<circle cx="647.90" cy="441.30" r="1.30" stroke="#222" stroke-width="0.8" fill="none" />
<circle cx="559.80" cy="457.40" r="1.30" stroke="#222" stroke-width="0.8" fill="none" />
<circle cx="647.90" cy="457.40" r="1.30" stroke="#222" stroke-width="0.8" fill="none" />
<circle cx="559.80" cy="473.50" r="1.30" stroke="#222" stroke-width="0.8" fill="none" />
<circle cx="647.90" cy="473.50" r="1.30" stroke="#222" stroke-width="0.8" fill="none" />
<line x1="603.50" y1="389.00" x2="603.50" y2="485.00" stroke="#222" stroke-width="1" stroke-dasharray="12 3 2 3"/>
<line x1="603.50" y1="485.00" x2="603.50" y2="494.00" stroke="#222" stroke-width="1" />
<line x1="555.00" y1="441.50" x2="662.00" y2="441.50" stroke="#999" stroke-width="0.8" stroke-dasharray="12 3 2 3"/>
<line x1="559.50" y1="385.50" x2="559.50" y2="408.00" stroke="#222" stroke-width="0.9" />
<line x1="647.50" y1="385.50" x2="647.50" y2="408.00" stroke="#222" stroke-width="0.9" />
<path d="M561.50,386.00 L570.50,384.40 L570.50,387.60 Z" stroke="#111" stroke-width="0.4" fill="#111" />
<path d="M645.00,386.00 L636.00,387.60 L636.00,384.40 Z" stroke="#111" stroke-width="0.4" fill="#111" />
<text transform="scale(0.5651069518716606 1)" x="1058.53" y="384.80" font-family="&quot;Liberation Sans&quot;, sans-serif" font-size="17.01" fill="#111" stroke="#111" stroke-width="0.2" letter-spacing="2.070">T1</text>
<line x1="543.00" y1="400.50" x2="562.00" y2="400.50" stroke="#222" stroke-width="0.9" />
<line x1="543.00" y1="482.50" x2="562.00" y2="482.50" stroke="#222" stroke-width="0.9" />
<line x1="543.50" y1="400.40" x2="543.50" y2="482.60" stroke="#333" stroke-width="0.9" />
<path d="M543.30,482.60 L541.50,472.60 L545.10,472.60 Z" stroke="#111" stroke-width="0.4" fill="#111" />
<path d="M543.30,400.40 L545.10,410.40 L541.50,410.40 Z" stroke="#111" stroke-width="0.4" fill="#111" />
<text transform="translate(541.80 447.80) rotate(-90) scale(0.6822846943328927 1)" x="-0.38" y="0" font-family="&quot;Liberation Sans&quot;, sans-serif" font-size="16.76" fill="#111" stroke="#111" stroke-width="0.2" letter-spacing="2.037">T2</text>
<line x1="626.50" y1="402.80" x2="626.50" y2="479.00" stroke="#333" stroke-width="0.9" />
<path d="M626.60,479.00 L624.80,469.00 L628.40,469.00 Z" stroke="#111" stroke-width="0.4" fill="#111" />
<path d="M626.60,402.80 L628.40,412.80 L624.80,412.80 Z" stroke="#111" stroke-width="0.4" fill="#111" />
<text transform="translate(623.50 459.20) rotate(-90) scale(0.8805418719211802 1)" x="-0.55" y="0" font-family="&quot;Liberation Sans&quot;, sans-serif" font-size="13.03" fill="#111" stroke="#111" stroke-width="0.2" letter-spacing="1.476">a2</text>
<line x1="562.20" y1="471.50" x2="644.50" y2="471.50" stroke="#333" stroke-width="0.9" />
<path d="M644.50,471.80 L635.50,473.40 L635.50,470.20 Z" stroke="#111" stroke-width="0.4" fill="#111" />
<path d="M562.20,471.80 L571.20,470.20 L571.20,473.40 Z" stroke="#111" stroke-width="0.4" fill="#111" />
<text transform="scale(0.758070301291251 1)" x="777.44" y="468.20" font-family="&quot;Liberation Sans&quot;, sans-serif" font-size="13.95" fill="#111" stroke="#111" stroke-width="0.2" letter-spacing="1.583">a1</text>
<line x1="647.90" y1="408.50" x2="697.00" y2="408.50" stroke="#222" stroke-width="0.9" />
<line x1="647.90" y1="473.50" x2="697.00" y2="473.50" stroke="#222" stroke-width="0.9" />
<line x1="693.50" y1="408.20" x2="693.50" y2="473.50" stroke="#333" stroke-width="0.9" />
<path d="M693.00,473.50 L691.40,464.50 L694.60,464.50 Z" stroke="#111" stroke-width="0.4" fill="#111" />
<path d="M693.00,408.20 L694.60,417.20 L691.40,417.20 Z" stroke="#111" stroke-width="0.4" fill="#111" />
<text transform="translate(692.70 467.80) rotate(-90) scale(0.6766489179226631 1)" x="-0.03" y="0" font-family="&quot;Liberation Sans&quot;, sans-serif" font-size="17.04" fill="#111" stroke="#111" stroke-width="0.2" letter-spacing="1.142">A2=t2xn4</text>
<line x1="647.90" y1="457.50" x2="677.00" y2="457.50" stroke="#222" stroke-width="0.9" />
<line x1="673.50" y1="435.00" x2="673.50" y2="495.00" stroke="#222" stroke-width="0.9" />
<path d="M673.20,457.40 L671.60,448.40 L674.80,448.40 Z" stroke="#111" stroke-width="0.4" fill="#111" />
<path d="M673.20,473.50 L674.80,482.50 L671.60,482.50 Z" stroke="#111" stroke-width="0.4" fill="#111" />
<text transform="translate(671.70 470.70) rotate(-90) scale(0.6554274823016847 1)" x="-0.27" y="0" font-family="&quot;Liberation Sans&quot;, sans-serif" font-size="18.05" fill="#111" stroke="#111" stroke-width="0.2" letter-spacing="1.541">t2</text>
<line x1="564.50" y1="485.20" x2="564.50" y2="528.30" stroke="#222" stroke-width="0.9" />
<line x1="584.50" y1="485.20" x2="584.50" y2="508.30" stroke="#222" stroke-width="0.9" />
<line x1="632.50" y1="485.20" x2="632.50" y2="528.30" stroke="#222" stroke-width="0.9" />
<line x1="543.00" y1="508.50" x2="605.70" y2="508.50" stroke="#222" stroke-width="0.9" />
<path d="M564.40,508.30 L554.40,510.10 L554.40,506.50 Z" stroke="#111" stroke-width="0.4" fill="#111" />
<path d="M584.30,508.30 L594.30,506.50 L594.30,510.10 Z" stroke="#111" stroke-width="0.4" fill="#111" />
<text transform="scale(0.6116823569581963 1)" x="932.25" y="507.70" font-family="&quot;Liberation Sans&quot;, sans-serif" font-size="17.01" fill="#111" stroke="#111" stroke-width="0.2" letter-spacing="1.455">t1</text>
<line x1="564.40" y1="527.50" x2="632.40" y2="527.50" stroke="#333" stroke-width="0.9" />
<path d="M632.40,527.30 L622.40,529.10 L622.40,525.50 Z" stroke="#111" stroke-width="0.4" fill="#111" />
<path d="M564.40,527.30 L574.40,525.50 L574.40,529.10 Z" stroke="#111" stroke-width="0.4" fill="#111" />
<text transform="scale(0.6341076085827838 1)" x="906.60" y="526.70" font-family="&quot;Liberation Sans&quot;, sans-serif" font-size="16.33" fill="#111" stroke="#111" stroke-width="0.2" letter-spacing="1.090">A1=t1xn3</text>
<text transform="scale(0.85 1)" x="782.21" y="508.30" font-family="&quot;Liberation Sans&quot;, sans-serif" font-size="14.63" fill="#111" stroke="#111" stroke-width="0.35" letter-spacing="0.075">n1 отв,Ød1</text>
<line x1="663.00" y1="510.50" x2="729.10" y2="510.50" stroke="#222" stroke-width="0.9" />
<line x1="663.00" y1="510.50" x2="629.20" y2="463.80" stroke="#222" stroke-width="0.9" />
<path d="M641.00,476.50 L648.41,483.48 L645.33,485.71 Z" stroke="#111" stroke-width="0.4" fill="#111" />
<path d="M646.50,484.00 L639.09,477.02 L642.17,474.79 Z" stroke="#111" stroke-width="0.4" fill="#111" />
<text x="581.39" y="555.80" font-family="&quot;Liberation Sans&quot;, sans-serif" font-size="17.19" font-weight="normal" fill="#111" stroke="#111" stroke-width="0.8" textLength="38.29" lengthAdjust="spacingAndGlyphs">№10</text>
</svg></body></html>
